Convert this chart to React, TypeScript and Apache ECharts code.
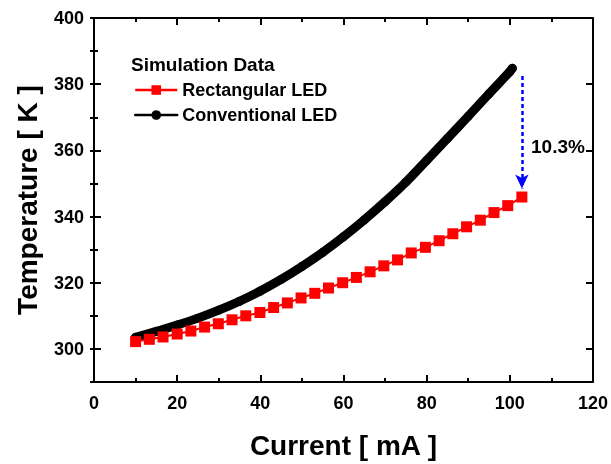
import React, { useEffect, useRef } from "react";
import * as echarts from "echarts";

const rectCurrent = [10, 13.3, 16.6, 20, 23.3, 26.6, 29.9, 33.2, 36.5, 39.9, 43.2, 46.5, 49.8, 53.1, 56.4, 59.8, 63.1, 66.4, 69.7, 73.0, 76.3, 79.7, 83.0, 86.3, 89.6, 92.9, 96.2, 99.5, 102.9];
const rectTemp = [302.2, 302.9, 303.6, 304.5, 305.4, 306.6, 307.6, 308.8, 310.0, 311.0, 312.5, 313.9, 315.4, 316.8, 318.4, 320.0, 321.6, 323.3, 325.1, 326.9, 329.0, 330.7, 332.7, 334.8, 336.9, 338.9, 341.2, 343.3, 345.9];

const convCurrent = [10, 15, 20, 25, 30, 35, 40, 45, 50, 55, 60, 65, 70, 75, 80, 85, 90, 95, 100, 100.6];
const convTemp = [303.5, 305.3, 307.2, 309.3, 311.7, 314.4, 317.5, 321.0, 324.9, 329.2, 333.9, 339.0, 344.5, 350.4, 357.0, 363.6, 370.3, 377.1, 383.8, 384.8];

const arrowX = 102.9;
const arrowFrom = 382.5;
const arrowTo = 348.5;
const arrowLabel = "10.3%";

const xMin = 0;
const xMax = 120;
const xMajor = 20;
const yMin = 290;
const yMax = 400;
const yMinorStep = 10;
const yMajorTicks = [300, 320, 340, 360, 380, 400];

const FONT = "'Liberation Sans', Arial, sans-serif";

export default function App() {
  const ref = useRef<HTMLDivElement>(null);
  useEffect(() => {
    const chart = echarts.init(ref.current!, null, { renderer: "svg" });
    const line = { show: true, onZero: false, lineStyle: { color: "#000", width: 2 } };
    const tickStyle = { color: "#000", width: 2 };
    const xCommon = {
      type: "value",
      min: xMin,
      max: xMax,
      interval: xMajor,
      axisLine: line,
      axisTick: { show: true, inside: true, length: 7, lineStyle: tickStyle },
      minorTick: { show: true, splitNumber: 2, length: 4, lineStyle: tickStyle },
      splitLine: { show: false },
    };
    const yMajorAxis = (pos: string, labels: boolean) => ({
      type: "value",
      min: yMin,
      max: yMax,
      interval: yMinorStep,
      position: pos,
      axisLine: line,
      axisTick: { show: true, inside: true, length: 7, lineStyle: tickStyle, customValues: yMajorTicks },
      splitLine: { show: false },
      axisLabel: labels
        ? { color: "#000", fontSize: 18, fontWeight: "bold", fontFamily: FONT, margin: 10, customValues: yMajorTicks }
        : { show: false },
    });
    const yMinorAxis = (pos: string) => ({
      type: "value",
      min: yMin,
      max: yMax,
      interval: yMinorStep,
      position: pos,
      axisLine: { show: false },
      axisTick: { show: true, inside: true, length: 4, lineStyle: tickStyle },
      splitLine: { show: false },
      axisLabel: { show: false },
    });
    chart.setOption({
      animation: false,
      grid: { left: 94, right: 17, top: 18, bottom: 74 },
      xAxis: [
        {
          ...xCommon,
          position: "bottom",
          axisLabel: { color: "#000", fontSize: 18, fontWeight: "bold", fontFamily: FONT, margin: 12 },
          name: "Current [ mA ]",
          nameLocation: "middle",
          nameGap: 49,
          nameTextStyle: { color: "#000", fontSize: 28, fontWeight: "bold", fontFamily: FONT },
        },
        { ...xCommon, position: "top", axisLabel: { show: false } },
      ],
      yAxis: [
        {
          ...yMajorAxis("left", true),
          name: "Temperature [ K ]",
          nameLocation: "middle",
          nameGap: 53,
          nameTextStyle: { color: "#000", fontSize: 28, fontWeight: "bold", fontFamily: FONT },
        },
        yMajorAxis("right", false),
        yMinorAxis("left"),
        yMinorAxis("right"),
      ],
      legend: {
        data: ["Rectangular LED", "Conventional LED"],
        orient: "vertical",
        left: 129,
        top: 75,
        itemWidth: 42,
        itemHeight: 12,
        itemGap: 5,
        lineStyle: { width: 2.5 },
        textStyle: { color: "#000", fontSize: 18, fontWeight: "bold", fontFamily: FONT, lineHeight: 20 },
      },
      graphic: [
        {
          type: "text",
          left: 131,
          top: 55,
          style: { text: "Simulation Data", fill: "#000", font: `bold 19px ${FONT}` },
        },
        {
          type: "text",
          left: 531,
          top: 137,
          style: { text: arrowLabel, fill: "#000", font: `bold 19px ${FONT}` },
        },
      ],
      series: [
        {
          name: "Conventional LED",
          type: "line",
          data: convCurrent.map((x, i) => [x, convTemp[i]]),
          smooth: 0.4,
          symbol: "circle",
          symbolSize: 9,
          itemStyle: { color: "#000" },
          lineStyle: { color: "#000", width: 9, cap: "round" },
          z: 2,
        },
        {
          name: "Rectangular LED",
          type: "line",
          data: rectCurrent.map((x, i) => [x, rectTemp[i]]),
          symbol: "rect",
          symbolSize: 11,
          itemStyle: { color: "#ff0000" },
          lineStyle: { color: "#ff0000", width: 2 },
          z: 3,
          markLine: {
            silent: true,
            symbol: ["none", "arrow"],
            symbolSize: [10, 14],
            label: { show: false },
            lineStyle: { color: "#0000ff", width: 2.5, type: [4, 3] },
            data: [[{ coord: [arrowX, arrowFrom] }, { coord: [arrowX, arrowTo] }]],
          },
        },
      ],
    });
    return () => chart.dispose();
  }, []);
  return <div ref={ref} style={{ position: "fixed", left: 0, top: 0, width: 611, height: 464 }} />;
}
